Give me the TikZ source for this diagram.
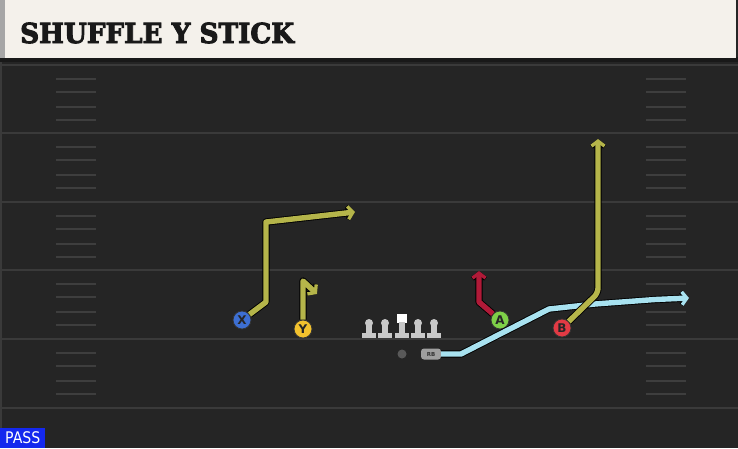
\documentclass[tikz,border=0pt]{standalone}
\usepackage{fontspec}
\setmainfont{DejaVu Serif}
\setsansfont{DejaVu Sans}
\newfontfamily\titlefont[FakeBold=3.5]{DejaVu Serif}
\usetikzlibrary{arrows.meta}
\definecolor{field}{HTML}{252525}
\definecolor{yardline}{HTML}{3A3A3A}
\definecolor{hashmark}{HTML}{3E3E3E}
\definecolor{header}{HTML}{F4F1EB}
\definecolor{olive}{HTML}{B5B54A}
\definecolor{crimson}{HTML}{B01A38}
\definecolor{skyblue}{HTML}{A8E2F0}
\definecolor{xblue}{HTML}{3D6FD2}
\definecolor{yyellow}{HTML}{F3C22E}
\definecolor{agreen}{HTML}{7ED048}
\definecolor{bred}{HTML}{E23A44}
\definecolor{linegray}{HTML}{C8C8C8}
\definecolor{passblue}{HTML}{1428EE}
\tikzset{
  tip/.style={-{Straight Barb[length=5pt,width=13pt,line width=0pt 0.62]}},
  outline/.style={draw=black, line width=7.2pt, line join=round, tip},
  route/.style={line width=5.4pt, line join=round, preaction={outline}, tip},
  player/.style={circle, draw=black!80, line width=0.8pt, minimum size=18pt, inner sep=0pt,
    font=\sffamily\bfseries\fontsize{12}{12}\selectfont, text=black!85},
  lineman/.style={fill=linegray},
}
\begin{document}
\begin{tikzpicture}[x=1pt,y=-1pt]
  \useasboundingbox (0,0) rectangle (738,448);
  % field
  \fill[field] (0,0) rectangle (738,448);
  \draw[yardline, line width=2pt] (1,58) -- (1,448);
  \foreach \y in {65,133,202,270,339,408}{
    \draw[yardline, line width=2pt] (0,\y) -- (738,\y);
  }
  \foreach \y in {65,133,202,270,339}{
    \foreach \d in {14,27,42,55}{
      \draw[hashmark, line width=1.5pt] (56,\y+\d) -- (96,\y+\d);
      \draw[hashmark, line width=1.5pt] (646,\y+\d) -- (686,\y+\d);
    }
  }
  % header
  \fill[black!90] (0,57) rectangle (738,62);
  \fill[header] (0,0) rectangle (736,58);
  \fill[gray!70] (0,0) rectangle (5,58);
  \node[anchor=base west, inner sep=0pt, font=\titlefont\bfseries\fontsize{25}{25}\selectfont, text=black!90]
    (title) at (20,43) {\scalebox{1.05}[1.1]{SHUFFLE Y STICK}};
  % players
  \node[player, fill=xblue] (X) at (242,320) {X};
  \node[player, fill=yyellow] (Y) at (303,329) {Y};
  \node[player, fill=agreen] (A) at (500,320) {A};
  \node[player, fill=bred] (B) at (562,328) {B};
  \foreach \x/\n in {369/lt,385/lg,418/rg,434/rt}{
    \fill[lineman] (\x,323) circle (4);
    \fill[lineman] (\x-2.8,323) rectangle (\x+2.8,334);
    \fill[lineman] (\x-7,333) rectangle (\x+7,338);
    \coordinate (\n) at (\x,330);
  }
  \fill[white] (397,314) rectangle (407,323);
  \fill[lineman] (399.2,322) rectangle (404.8,333);
  \fill[lineman] (395,333) rectangle (409,338);
  \coordinate (C) at (402,328);
  \node[circle, fill=gray!70!black, minimum size=9pt, inner sep=0pt] (QB) at (402,354) {};
  \node[fill=gray!75, rounded corners=3pt, minimum width=20pt, minimum height=11pt, inner sep=0pt,
    font=\sffamily\bfseries\fontsize{5.5}{5.5}\selectfont, text=black!80] (RB) at (431,354) {RB};
  % routes
  \coordinate (x1) at (266,302);
  \coordinate (x2) at (266,222);
  \coordinate (x3) at (355,212);
  \draw[route, draw=olive] (X) -- (x1) -- (x2) -- (x3);
  \coordinate (y1) at (303,281);
  \coordinate (y2) at (317,294);
  \draw[route, draw=olive] (Y) -- (y1) -- (y2);
  \coordinate (a1) at (479,302);
  \coordinate (a2) at (479,271);
  \draw[route, draw=crimson] (A) -- (a1) -- (a2);
  \coordinate (rb1) at (461,354);
  \coordinate (rb2) at (549,309);
  \coordinate (rb3) at (595,304);
  \coordinate (rb4) at (655,299.5);
  \coordinate (rb5) at (689,298);
  \draw[route, draw=skyblue] (RB) -- (rb1) -- (rb2) -- (rb3) -- (rb4) -- (rb5);
  \coordinate (b1) at (598,293);
  \coordinate (b2) at (598,139);
  \draw[route, draw=olive, rounded corners=5pt] (B) -- (b1) -- (b2);
  % footer
  \node[fill=passblue, text=white, anchor=south west, minimum width=45pt, minimum height=20pt,
    inner sep=0pt, font=\sffamily\fontsize{16}{16}\selectfont] (pass) at (0,448) {\scalebox{0.88}[1]{PASS}};
\end{tikzpicture}
\end{document}
